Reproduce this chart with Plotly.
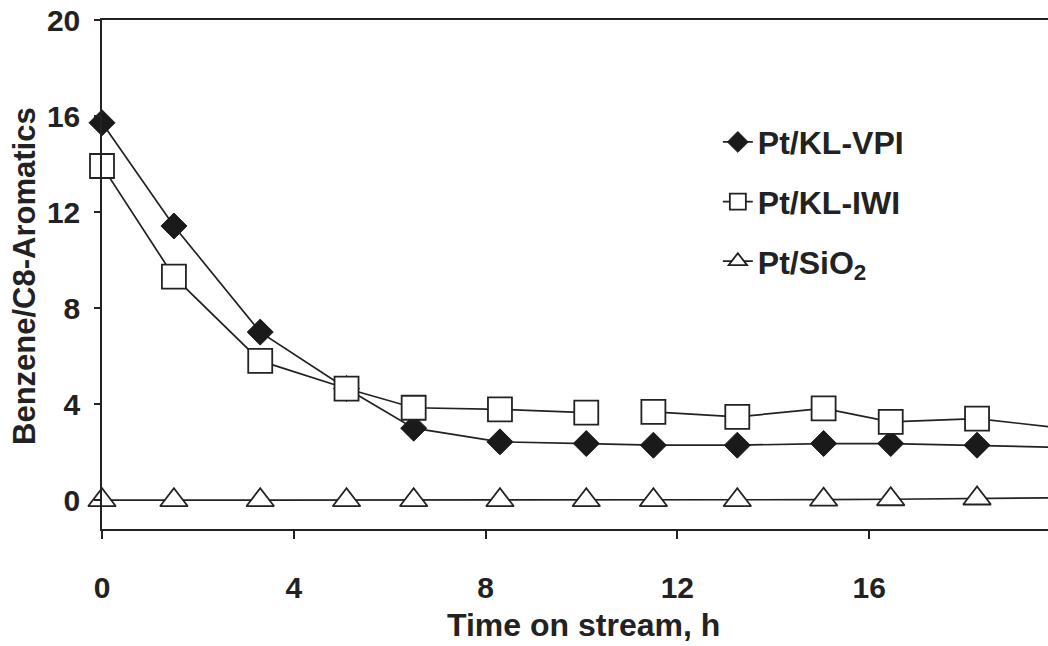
import plotly.graph_objects as go

# Time on stream (h) and benzene / C8-aromatics ratio for each catalyst
time_h = [0, 1.5, 3.3, 5.1, 6.5, 8.3, 10.1, 11.5, 13.25, 15.05, 16.45, 18.25, 20.0]
pt_kl_vpi = [15.72, 11.42, 7.0, 4.65, 3.0, 2.43, 2.36, 2.29, 2.29, 2.36, 2.36, 2.29, 2.2]
pt_kl_iwi = [13.92, 9.31, 5.8, 4.65, 3.85, 3.78, 3.65, 3.68, 3.47, 3.82, 3.26, 3.40, 3.0]
pt_sio2 = [0, 0, 0, 0, 0, 0, 0, 0, 0, 0.02, 0.04, 0.07, 0.1]

# the IWI curve is not joined between these two samples
iwi_break_after = 6

x_ticks = [0, 4, 8, 12, 16]
y_ticks = [0, 4, 8, 12, 16, 20]

INK = "#222222"
FONT = "Liberation Sans, Arial, sans-serif"


def with_gap(values, idx):
    return list(values[: idx + 1]) + [None] + list(values[idx + 1:])


fig = go.Figure()

fig.add_trace(go.Scatter(
    x=time_h, y=pt_kl_vpi, mode="lines+markers", name="Pt/KL-VPI",
    legendgroup="vpi",
    line=dict(color=INK, width=1.7),
    marker=dict(symbol="diamond", size=20, color="#1a1a1a",
                line=dict(color="#1a1a1a", width=1)),
    cliponaxis=False,
))

fig.add_trace(go.Scatter(
    x=with_gap(time_h, iwi_break_after), y=with_gap(pt_kl_iwi, iwi_break_after),
    mode="lines+markers", name="Pt/KL-IWI", legendgroup="iwi",
    line=dict(color=INK, width=1.7),
    marker=dict(symbol="square", size=24, color="white",
                line=dict(color=INK, width=1.8)),
    cliponaxis=False,
))

fig.add_trace(go.Scatter(
    x=time_h, y=pt_sio2, mode="lines+markers", name="Pt/SiO<sub>2</sub>",
    legendgroup="sio2",
    line=dict(color=INK, width=1.7),
    marker=dict(symbol="triangle-up", size=24, color="white",
                line=dict(color=INK, width=1.8)),
    cliponaxis=False,
))

fig.update_layout(
    width=1048, height=646,
    margin=dict(l=102, r=0, t=20, b=117),
    paper_bgcolor="white", plot_bgcolor="white",
    font=dict(family=FONT, color=INK, size=30, weight="bold"),
    showlegend=True,
    legend=dict(
        x=0.651, y=0.814, xanchor="left", yanchor="top",
        font=dict(size=32, family=FONT, color=INK, weight="bold"),
        bgcolor="rgba(0,0,0,0)", tracegroupgap=15,
        traceorder="grouped",
    ),
    xaxis=dict(
        range=[0, 19.73], tickvals=x_ticks, ticktext=[str(v) for v in x_ticks],
        showline=True, linecolor=INK, linewidth=1.5, mirror=True,
        ticks="outside", ticklen=8, tickwidth=1.5, tickcolor=INK,
        ticklabelstandoff=23, showgrid=False, zeroline=False,
        tickfont=dict(size=30, family=FONT, color=INK, weight="bold"),
    ),
    yaxis=dict(
        range=[-1.2, 20], tickvals=y_ticks, ticktext=[str(v) for v in y_ticks],
        showline=True, linecolor=INK, linewidth=1.5,
        ticks="outside", ticklen=6, tickwidth=1.5, tickcolor=INK,
        ticklabelstandoff=8, showgrid=False, zeroline=False,
        tickfont=dict(size=30, family=FONT, color=INK, weight="bold"),
    ),
    annotations=[
        dict(text="Time on stream, h",
             xref="paper", yref="paper", x=0.5085, y=-0.188, xanchor="center",
             yanchor="middle", showarrow=False,
             font=dict(size=32, family=FONT, color=INK, weight="bold")),
        dict(text="Benzene/C8-Aromatics",
             xref="paper", yref="paper", x=-0.0825, y=0.497, xanchor="center",
             yanchor="middle", textangle=-90, showarrow=False,
             font=dict(size=31, family=FONT, color=INK, weight="bold")),
    ],
)

fig.write_html("out.html")
